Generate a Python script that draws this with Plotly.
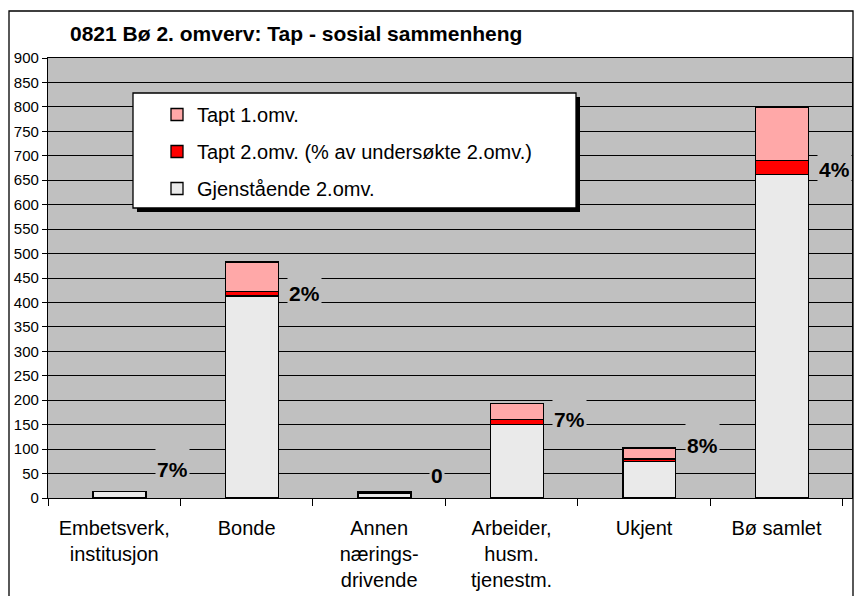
import plotly.graph_objects as go

categories = ["Embetsverk,<br>institusjon", "Bonde", "Annen<br>nærings-<br>drivende",
              "Arbeider,<br>husm.<br>tjenestm.", "Ukjent", "Bø samlet"]
gjenstaende = [13, 413, 10, 150, 74, 661]
tapt2 = [1, 10, 0, 11, 6, 30]
tapt1 = [0, 60, 2, 32, 22, 109]
pct_labels = ["7%", "2%", "0", "7%", "8%", "4%"]
label_anchor = [55, 415, 43, 158, 105, 668]
y_ticks = list(range(0, 901, 50))

FONT = "Liberation Sans, Arial, sans-serif"
BG = "#c0c0c0"

fig = go.Figure()
line = dict(color="black", width=1.3)
bar_kw = dict(width=0.4, offset=-0.16)
fig.add_trace(go.Bar(x=categories, y=gjenstaende, name="Gjenstående 2.omv.",
                     marker=dict(color="#eaeaea", line=line), legendgroup="c", legendrank=3,
                     **bar_kw))
fig.add_trace(go.Bar(x=categories, y=tapt2, name="Tapt 2.omv. (% av undersøkte 2.omv.)",
                     marker=dict(color="#ff0000", line=line), legendgroup="b", legendrank=2,
                     **bar_kw))
fig.add_trace(go.Bar(x=categories, y=tapt1, name="Tapt 1.omv.",
                     marker=dict(color="#ffa8a8", line=line), legendgroup="a", legendrank=1,
                     **bar_kw))

for c, t, ya in zip(categories, pct_labels, label_anchor):
    fig.add_annotation(x=c, y=ya, text=f"<b>{t}</b>", showarrow=False,
                       xanchor="center", xshift=58, yanchor="bottom", yshift=-12,
                       height=34, valign="bottom",
                       bgcolor=BG, borderpad=1,
                       font=dict(family=FONT, size=21, color="black"))

# plot area px: x 48..852, y 58..498
W0, W1, H0, H1 = 48, 852, 58, 498
def px(x):
    return (x - W0) / (W1 - W0)
def py(y):
    return (H1 - y) / (H1 - H0)

# legend box with shadow
fig.add_shape(type="rect", xref="paper", yref="paper",
              x0=px(137), x1=px(580), y0=py(212), y1=py(97),
              fillcolor="black", line=dict(width=0), layer="above")
fig.add_shape(type="rect", xref="paper", yref="paper",
              x0=px(133), x1=px(576), y0=py(208), y1=py(93),
              fillcolor="white", line=dict(color="black", width=1.3), layer="above")
# outer chart border
fig.add_shape(type="rect", xref="paper", yref="paper",
              x0=px(9), x1=px(853), y0=py(640), y1=py(11),
              line=dict(color="black", width=1.3), layer="below")

fig.update_layout(
    width=854, height=596,
    barmode="stack",
    paper_bgcolor="white", plot_bgcolor=BG,
    margin=dict(l=W0, r=854 - W1, t=H0, b=596 - H1),
    font=dict(family=FONT, color="black"),
    title=dict(text="<b>0821 Bø 2. omverv: Tap - sosial sammenheng</b>",
               x=70 / 854, xanchor="left", xref="container",
               y=1 - 34 / 596, yanchor="middle", yref="container",
               font=dict(family=FONT, size=21, color="black")),
    legend=dict(x=px(157), y=py(95), xanchor="left", yanchor="top",
                bgcolor="rgba(0,0,0,0)", borderwidth=0,
                traceorder="grouped", tracegroupgap=8,
                itemwidth=30,
                font=dict(family=FONT, size=20, color="black")),
    showlegend=True,
)
fig.update_yaxes(range=[0, 900], tickvals=y_ticks, showgrid=True, gridcolor="black",
                 gridwidth=1.3, showline=True, linecolor="black", linewidth=1.3,
                 mirror=True, ticks="outside", ticklen=5, tickcolor="black",
                 tickfont=dict(family=FONT, size=15, color="black"), zeroline=False)
fig.update_xaxes(showline=True, linecolor="black", linewidth=1.3, mirror=True,
                 ticks="outside", tickson="boundaries", ticklen=7, tickcolor="black",
                 ticklabelstandoff=12,
                 tickfont=dict(family=FONT, size=20, color="black"))

fig.write_html("out.html", config={"displayModeBar": False},
               post_script="document.body.style.margin='0';")
